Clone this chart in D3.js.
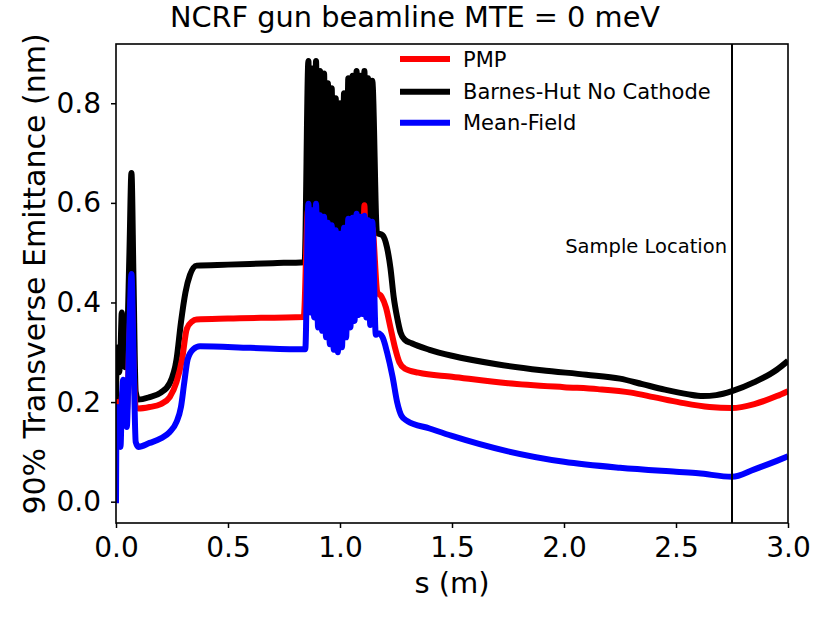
<!DOCTYPE html>
<html><head><meta charset="utf-8">
<script src="https://cdn.jsdelivr.net/npm/d3@7"></script>
<style>body{margin:0;background:#fff;} text{font-family:"DejaVu Sans",sans-serif;fill:#000;}</style>
</head><body><svg id="c" width="830" height="623"></svg>
<script>
// ---- data ----
const sBH=[0,0.003,0.008,0.014,0.02,0.026,0.032,0.04,0.048,0.06,0.069,0.078,0.088,0.1,0.15,0.2,0.24,0.27,0.29,0.31,0.33,0.36,0.5,0.7,0.842,
 0.859,0.8675,0.876,0.8845,0.893,0.902,0.911,0.92,0.929,0.9375,0.946,0.9545,0.963,0.972,0.981,0.9905,1.0,1.009,1.018,1.0275,1.037,1.0465,1.056,1.065,1.074,1.0825,1.091,1.1,1.109,1.1175,1.126,1.135,1.144,1.165,
 1.19,1.21,1.225,1.24,1.255,1.27,1.29,1.32,1.4,1.5,1.7,1.9,2.1,2.25,2.35,2.45,2.55,2.62,2.68,2.75,2.85,2.95,3.0];
const eBH=[0.2,0.29,0.31,0.26,0.3,0.38,0.3,0.27,0.3,0.5,0.66,0.45,0.22,0.205,0.21,0.219,0.238,0.285,0.36,0.42,0.455,0.474,0.476,0.479,0.481,
 0.885,0.42,0.87,0.40,0.885,0.39,0.865,0.38,0.86,0.37,0.84,0.36,0.83,0.35,0.81,0.35,0.80,0.36,0.82,0.37,0.85,0.39,0.855,0.40,0.865,0.41,0.855,0.42,0.865,0.42,0.85,0.43,0.845,0.54,
 0.535,0.51,0.47,0.41,0.37,0.34,0.325,0.318,0.305,0.293,0.276,0.264,0.255,0.247,0.236,0.225,0.216,0.212,0.214,0.222,0.24,0.265,0.283];

const sPMP=[0,0.005,0.013,0.02,0.03,0.04,0.048,0.06,0.069,0.078,0.088,0.1,0.15,0.2,0.24,0.27,0.295,0.316,0.34,0.36,0.5,0.838,
 0.857,0.8675,0.876,0.8845,0.893,0.902,0.911,0.92,0.929,0.9375,0.946,0.9545,0.963,0.972,0.981,0.9905,1.0,1.009,1.018,1.0275,1.037,1.0465,1.056,1.065,1.074,1.0825,1.091,1.1,1.109,1.1175,1.126,1.135,1.144,1.167,
 1.185,1.205,1.225,1.245,1.265,1.29,1.35,1.5,1.75,2.0,2.15,2.3,2.4,2.52,2.65,2.75,2.85,2.95,3.0];
const ePMP=[0.19,0.2,0.19,0.19,0.22,0.2,0.18,0.33,0.42,0.28,0.19,0.187,0.19,0.196,0.21,0.24,0.286,0.347,0.362,0.366,0.368,0.371,
 0.585,0.392,0.573,0.382,0.585,0.362,0.563,0.355,0.56,0.342,0.548,0.328,0.543,0.317,0.533,0.312,0.526,0.322,0.538,0.342,0.556,0.362,0.558,0.375,0.566,0.387,0.56,0.389,0.595,0.382,0.553,0.367,0.55,0.42,
 0.412,0.39,0.35,0.31,0.28,0.267,0.259,0.251,0.238,0.23,0.226,0.219,0.21,0.199,0.19,0.188,0.196,0.212,0.222];

const sMF=[0,0.003,0.008,0.013,0.02,0.026,0.032,0.04,0.048,0.06,0.069,0.078,0.088,0.1,0.15,0.2,0.24,0.27,0.29,0.305,0.32,0.345,0.375,0.6,0.845,
 0.859,0.8675,0.876,0.8845,0.893,0.902,0.911,0.92,0.929,0.9375,0.946,0.9545,0.963,0.972,0.981,0.9905,1.0,1.009,1.018,1.0275,1.037,1.0465,1.056,1.065,1.074,1.0825,1.091,1.1,1.109,1.1175,1.126,1.135,1.144,1.16,
 1.17,1.19,1.21,1.235,1.255,1.275,1.3,1.4,1.5,1.75,2.0,2.25,2.5,2.6,2.75,2.85,2.95,3.0];
const eMF=[-0.003,0.19,0.17,0.19,0.11,0.2,0.245,0.19,0.15,0.35,0.457,0.3,0.12,0.11,0.118,0.127,0.14,0.16,0.19,0.24,0.286,0.306,0.312,0.309,0.306,
 0.598,0.38,0.585,0.37,0.598,0.35,0.575,0.343,0.572,0.33,0.56,0.316,0.555,0.305,0.545,0.30,0.538,0.31,0.55,0.33,0.568,0.35,0.57,0.363,0.578,0.375,0.572,0.377,0.574,0.37,0.565,0.355,0.562,0.335,
 0.338,0.33,0.30,0.25,0.2,0.172,0.162,0.147,0.132,0.101,0.08,0.068,0.06,0.057,0.05,0.065,0.082,0.091];

const seriesNames=["PMP","Barnes-Hut No Cathode","Mean-Field"];
const seriesColors=["#ff0000","#000000","#0000ff"];
const xTicks=[0,0.5,1.0,1.5,2.0,2.5,3.0];
const yTicks=[0,0.2,0.4,0.6,0.8];
const sampleS=2.75;
const titleText="NCRF gun beamline MTE = 0 meV";
const xLabel="s (m)";
const yLabel="90% Transverse Emittance (nm)";
const sampleLabel="Sample Location";

// ---- layout ----
const M={l:116,t:44,r:788,b:523};
const svg=d3.select("#c");
const x=d3.scaleLinear().domain([0,3]).range([M.l,M.r]);
const y=d3.scaleLinear().domain([-0.0428,0.919]).range([M.b,M.t]);

svg.append("defs").append("clipPath").attr("id","clip")
 .append("rect").attr("x",M.l).attr("y",M.t).attr("width",M.r-M.l).attr("height",M.b-M.t);

const line=d3.line().x(d=>x(d[0])).y(d=>y(d[1])).curve(d3.curveMonotoneX);
const series={
 "PMP":d3.zip(sPMP,ePMP),
 "Barnes-Hut No Cathode":d3.zip(sBH,eBH),
 "Mean-Field":d3.zip(sMF,eMF)
};
const drawOrder=[1,0,2];
const g=svg.append("g").attr("clip-path","url(#clip)");
drawOrder.forEach(i=>{
 g.append("path").datum(series[seriesNames[i]])
  .attr("d",line).attr("fill","none").attr("stroke",seriesColors[i])
  .attr("stroke-width",6).attr("stroke-linejoin","round");
});

// sample location
svg.append("line").attr("x1",x(sampleS)).attr("x2",x(sampleS)).attr("y1",M.t).attr("y2",M.b)
 .attr("stroke","#000").attr("stroke-width",2);
svg.append("text").attr("x",x(sampleS)-5).attr("y",253).attr("text-anchor","end")
 .attr("font-size",19.5).text(sampleLabel);

// axes
const xa=svg.append("g").attr("transform",`translate(0,${M.b})`)
 .call(d3.axisBottom(x).tickValues(xTicks).tickFormat(d3.format(".1f")).tickSize(5).tickPadding(9));
const ya=svg.append("g").attr("transform",`translate(${M.l},0)`)
 .call(d3.axisLeft(y).tickValues(yTicks).tickFormat(d3.format(".1f")).tickSize(5).tickPadding(10));
[xa,ya].forEach(a=>{
 a.select(".domain").remove();
 a.selectAll("text").attr("font-size",28).attr("font-family","DejaVu Sans").attr("fill","#000");
 a.selectAll("line").attr("stroke","#000").attr("stroke-width",1.5);
});

// frame
svg.append("rect").attr("x",M.l).attr("y",M.t).attr("width",M.r-M.l).attr("height",M.b-M.t)
 .attr("fill","none").attr("stroke","#000").attr("stroke-width",1.6);

// title & labels
svg.append("text").attr("x",415).attr("y",27).attr("text-anchor","middle").attr("font-size",28.8).text(titleText);
svg.append("text").attr("x",(M.l+M.r)/2).attr("y",593).attr("text-anchor","middle").attr("font-size",29).text(xLabel);
svg.append("text").attr("transform",`translate(45,274) rotate(-90)`).attr("text-anchor","middle")
 .attr("font-size",30).text(yLabel);

// legend
const lg=svg.append("g");
const legY=[59,91.7,122.7];
seriesNames.forEach((n,i)=>{
 lg.append("line").attr("x1",400).attr("x2",450).attr("y1",legY[i]).attr("y2",legY[i])
  .attr("stroke",seriesColors[i]).attr("stroke-width",6);
 lg.append("text").attr("x",463).attr("y",legY[i]).attr("dy","0.36em").attr("font-size",21).text(n);
});
</script></body></html>
